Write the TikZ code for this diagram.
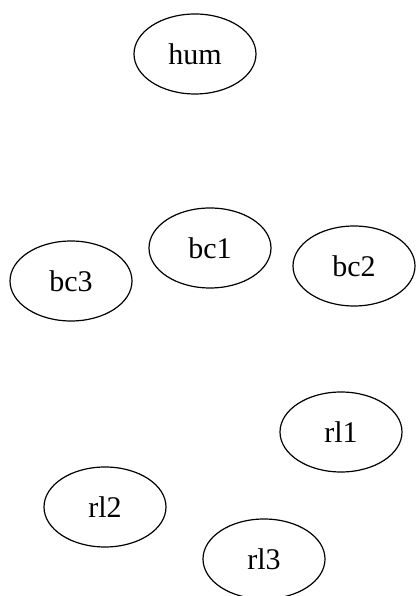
\documentclass[tikz,border=0pt]{standalone}
\usepackage{fontspec}
\setmainfont{Liberation Serif}
\usetikzlibrary{shapes.geometric}
\begin{document}
\begin{tikzpicture}[x=1pt,y=1pt,
  nodeell/.style={draw, ellipse, line width=1.2pt, minimum width=122pt, minimum height=80pt, inner sep=0pt, font=\fontsize{30}{32}\selectfont}]
\useasboundingbox (0,0) rectangle (416,596);
\node[nodeell] (hum) at (195,542) {hum};
\node[nodeell] (bc1) at (210,348) {bc1};
\node[nodeell] (bc3) at (71,315) {bc3};
\node[nodeell] (bc2) at (354,330) {bc2};
\node[nodeell] (rl1) at (341,164) {rl1};
\node[nodeell] (rl2) at (105,89) {rl2};
\node[nodeell] (rl3) at (264,37) {rl3};
\end{tikzpicture}
\end{document}
